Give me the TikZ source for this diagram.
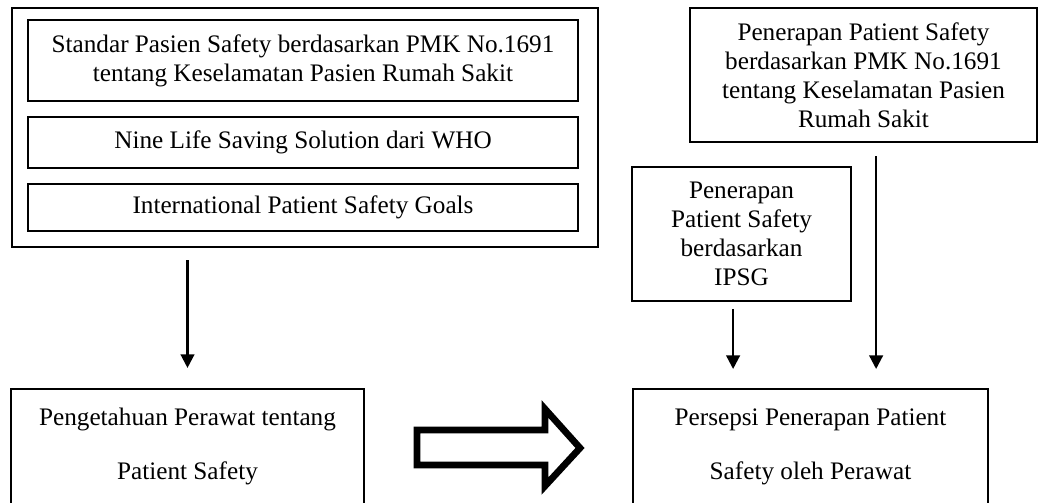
\documentclass[tikz,border=0pt]{standalone}
\usepackage{fontspec}
\setmainfont{Liberation Serif}
\usetikzlibrary{arrows.meta}

\tikzset{
    kotak/.style={draw, line width=1pt, align=center, inner sep=0pt,
        font=\fontsize{12}{13.8}\selectfont},
    kotakdalam/.style={kotak, line width=1.4pt},
    panah/.style={-{Triangle[length=6.5pt,width=6.5pt]}, line width=1.1pt},
}

\begin{document}
\begin{tikzpicture}[x=0.476pt, y=-0.476pt]
    \def\px{0.476pt}
    \useasboundingbox (0,0) rectangle (1039,503);
    % Left group
    \node[kotak, minimum width=586*\px, minimum height=239*\px] (luar) at (305,127.5) {};
    \node[kotakdalam, minimum width=550*\px, minimum height=81*\px] (standar) at (303,60.5)
        {Standar Pasien Safety berdasarkan PMK No.1691\\tentang Keselamatan Pasien Rumah Sakit};
    \node[kotakdalam, minimum width=550*\px, minimum height=51*\px] (nine) at (303,142.5)
        {Nine Life Saving Solution dari WHO};
    \node[kotakdalam, minimum width=550*\px, minimum height=47*\px] (ipsggoals) at (303,207.5)
        {International Patient Safety Goals};

    % Right group
    \node[kotak, minimum width=347*\px, minimum height=134*\px] (pmk) at (863.5,75)
        {Penerapan Patient Safety\\berdasarkan PMK No.1691\\tentang Keselamatan Pasien\\Rumah Sakit};
    \node[kotak, minimum width=219*\px, minimum height=134*\px] (ipsg) at (741.5,234)
        {Penerapan\\Patient Safety\\berdasarkan\\IPSG};

    % Bottom boxes (open at the bottom)
    \node[kotak, draw=none, minimum width=351*\px, minimum height=113*\px] (pengetahuan) at (187.5,446.5)
        {Pengetahuan Perawat tentang\\[12pt]Patient Safety};
    \node[kotak, draw=none, minimum width=353*\px, minimum height=113*\px] (persepsi) at (810.5,446.5)
        {Persepsi Penerapan Patient\\[12pt]Safety oleh Perawat};
    \draw[line width=1pt] (pengetahuan.south west) |- (pengetahuan.north east) -- (pengetahuan.south east);
    \draw[line width=1pt] (persepsi.south west) |- (persepsi.north east) -- (persepsi.south east);

    % Arrows
    \coordinate (ipa) at ([xshift=-4pt]ipsg.south);
    \coordinate (pma) at ([xshift=6pt]pmk.south);
    \draw[panah, shorten <=5.7pt, shorten >=10pt] (luar.south -| pengetahuan.north) -- (pengetahuan.north);
    \draw[panah, shorten <=3.3pt, shorten >=9.5pt] (ipa) -- (ipa |- persepsi.north);
    \draw[panah, shorten <=6.2pt, shorten >=9.5pt] (pma) -- (pma |- persepsi.north);

    % Hollow arrow
    \draw[line width=3.2pt, miter limit=20] (417,430) -- (545,430) -- (545,409) -- (580,448)
        -- (545,486) -- (545,465) -- (417,465) -- cycle;
\end{tikzpicture}
\end{document}
